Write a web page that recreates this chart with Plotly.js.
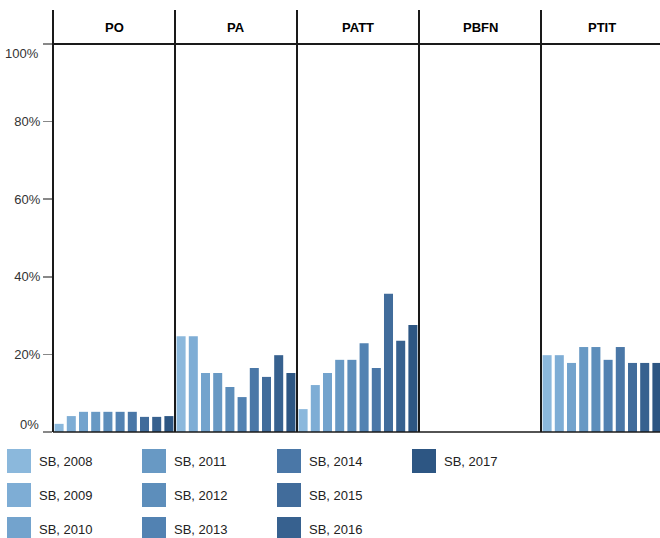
<!DOCTYPE html>
<html>
<head>
<meta charset="utf-8">
<script src="https://cdn.plot.ly/plotly-3.0.1.min.js"></script>
<style>
html,body{margin:0;padding:0;overflow:hidden;background:#fff;}
#chart{width:663px;height:538px;}
</style>
</head>
<body>
<div id="chart"></div>
<script>
// ---- data ----
const panels = ["PO", "PA", "PATT", "PBFN", "PTIT"];
const years = ["2008","2009","2010","2011","2012","2013","2014","2015","2016","2017"];
const seriesLabels = ["SB, 2008","SB, 2009","SB, 2010","SB, 2011","SB, 2012","SB, 2013","SB, 2014","SB, 2015","SB, 2016","SB, 2017"];
const colors = ["#8BB8DC","#7EADD5","#73A3CD","#6899C4","#5D8EBB","#5282B2","#4A77A7","#416C9B","#37618F","#2D5683"];
const valuesPO   = [2.1, 4.1, 5.2, 5.2, 5.2, 5.2, 5.2, 3.9, 3.9, 4.1];
const valuesPA   = [24.7, 24.7, 15.2, 15.2, 11.6, 9.0, 16.5, 14.2, 19.8, 15.2];
const valuesPATT = [5.9, 12.1, 15.2, 18.6, 18.6, 22.9, 16.5, 35.6, 23.5, 27.6];
const valuesPBFN = [0, 0, 0, 0, 0, 0, 0, 0, 0, 0];
const valuesPTIT = [19.8, 19.8, 17.8, 21.9, 21.9, 18.6, 21.9, 17.8, 17.8, 17.8];
const panelValues = [valuesPO, valuesPA, valuesPATT, valuesPBFN, valuesPTIT];
const yTickVals = [0, 20, 40, 60, 80, 100];
const yTickText = ["", "20%", "40%", "60%", "80%", ""];

// ---- geometry ----
const W = 663, H = 538, ML = 53, MR = 0, MT = 44, MB = 106;
const PW = W - ML - MR, PH = H - MT - MB;
const px2x = p => (p - ML) / PW;
const px2y = p => (H - MB - p) / PH;
const n = panels.length;

const traces = [];
const layout = {
  width: W, height: H,
  margin: {l: ML, r: MR, t: MT, b: MB, pad: 0},
  paper_bgcolor: "#fff", plot_bgcolor: "#fff",
  showlegend: false,
  bargap: 0.26,
  font: {family: "Liberation Sans, Arial, sans-serif", size: 13, color: "#222"},
  shapes: [], annotations: []
};

panels.forEach((p, i) => {
  const ax = i === 0 ? "" : String(i + 1);
  traces.push({
    type: "bar", x: years, y: panelValues[i],
    xaxis: "x" + ax, yaxis: "y",
    marker: {color: colors, line: {width: 0}},
    hoverinfo: "x+y", name: p
  });
  layout["xaxis" + ax] = {
    domain: [i / n, (i + 1) / n], anchor: "y",
    type: "category", range: [-0.5, 9.5],
    showticklabels: false, ticks: "", showgrid: false, zeroline: false, showline: false
  };
  layout.shapes.push({type: "line", xref: "paper", yref: "paper",
    x0: i / n, x1: i / n, y0: 0, y1: px2y(10), line: {color: "#1a1a1a", width: 2}});
  layout.annotations.push({xref: "paper", yref: "paper", x: (i + 0.5) / n, y: px2y(28),
    text: "<b>" + p + "</b>", showarrow: false, xanchor: "center", yanchor: "middle",
    font: {size: 13, color: "#000"}});
});

layout.yaxis = {
  domain: [0, 1], anchor: "x", range: [0, 100],
  tickvals: yTickVals, ticktext: yTickText,
  ticks: "outside", ticklen: 9, tickwidth: 1.5, tickcolor: "#888",
  tickfont: {size: 13, color: "#333"},
  showgrid: false, zeroline: false, showline: false
};

layout.shapes.push({type: "line", xref: "paper", yref: "paper", x0: 0, x1: 1, y0: 1, y1: 1,
  line: {color: "#1a1a1a", width: 2}});
layout.shapes.push({type: "line", xref: "paper", yref: "paper", x0: 0, x1: 1, y0: 0, y1: 0,
  line: {color: "#1a1a1a", width: 1.5}});

layout.annotations.push({xref: "paper", yref: "paper", x: px2x(41), y: px2y(53),
  text: "100%", showarrow: false, xanchor: "right", yanchor: "middle", font: {size: 13, color: "#333"}});
layout.annotations.push({xref: "paper", yref: "paper", x: px2x(41), y: px2y(424),
  text: "0%", showarrow: false, xanchor: "right", yanchor: "middle", font: {size: 13, color: "#333"}});

seriesLabels.forEach((lab, k) => {
  const c = Math.floor(k / 3), r = k % 3;
  const x0 = 7 + 135 * c, y0 = 449 + 34 * r;
  layout.shapes.push({type: "rect", xref: "paper", yref: "paper",
    x0: px2x(x0), x1: px2x(x0 + 24), y0: px2y(y0), y1: px2y(y0 + 24),
    fillcolor: colors[k], line: {width: 0}});
  layout.annotations.push({xref: "paper", yref: "paper", x: px2x(37 + 135 * c), y: px2y(y0 + 12),
    text: lab, showarrow: false, xanchor: "left", yanchor: "middle",
    font: {size: 13, color: "#222"}});
});

Plotly.newPlot("chart", traces, layout, {staticPlot: true, displayModeBar: false});
</script>
</body>
</html>
